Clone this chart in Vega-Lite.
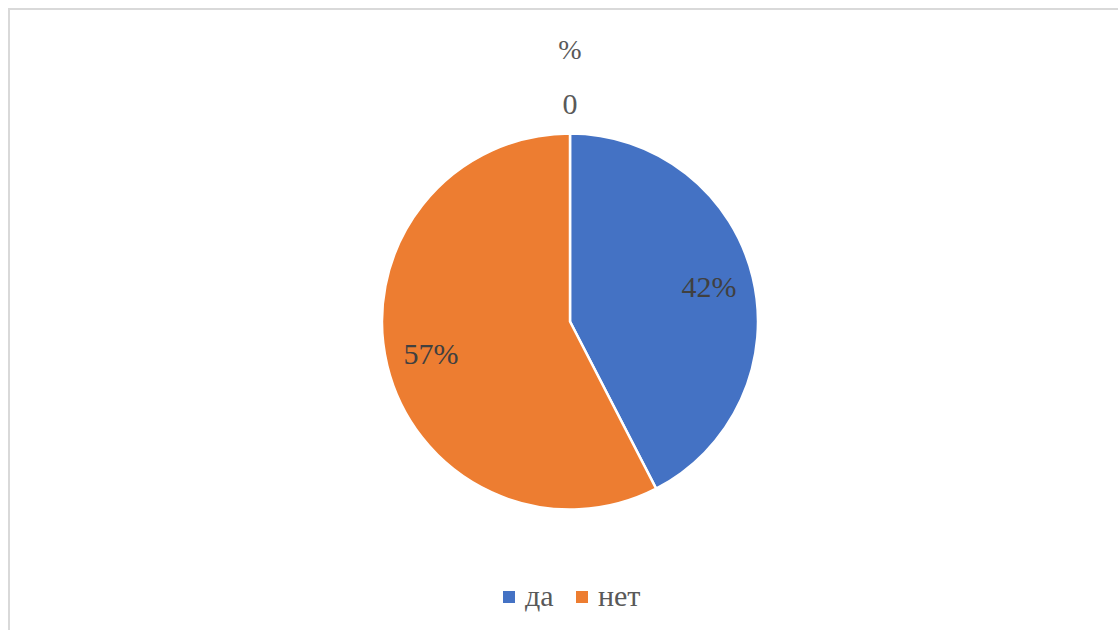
{
  "$schema": "https://vega.github.io/schema/vega-lite/v6.json",
  "autosize": {"type": "none"},
  "padding": {"left": 9, "top": 9, "right": 0, "bottom": 0},
  "width": 1122,
  "height": 625,
  "background": "white",
  "view": {"stroke": "#d9d9d9", "strokeWidth": 2},
  "title": {
    "text": "%",
    "subtitle": "0",
    "frame": "group",
    "anchor": "middle",
    "orient": "top",
    "baseline": "top",
    "offset": -111,
    "font": "Liberation Serif",
    "fontSize": 28,
    "fontWeight": "normal",
    "color": "#595959",
    "subtitleFont": "Liberation Serif",
    "subtitleFontSize": 30,
    "subtitleColor": "#595959",
    "subtitlePadding": 25
  },
  "data": {
    "values": [
      {"answer": "да", "percent": 42, "label": "42%"},
      {"answer": "нет", "percent": 57, "label": "57%"}
    ]
  },
  "encoding": {
    "theta": {"field": "percent", "type": "quantitative", "stack": true}
  },
  "layer": [
    {
      "mark": {"type": "arc", "outerRadius": 188, "stroke": "white", "strokeWidth": 2.5},
      "encoding": {
        "color": {
          "field": "answer",
          "type": "nominal",
          "scale": {"domain": ["да", "нет"], "range": ["#4472C4", "#ED7D31"]},
          "legend": {
            "orient": "none",
            "legendX": 485,
            "legendY": 573,
            "direction": "horizontal",
            "title": null,
            "symbolType": "square",
            "symbolSize": 144,
            "symbolStrokeWidth": 0,
            "labelFont": "Liberation Serif",
            "labelFontSize": 30,
            "labelColor": "#595959",
            "labelOffset": 1,
            "columnPadding": 13,
            "padding": 0
          }
        }
      }
    },
    {
      "mark": {"type": "text", "radius": 143, "font": "Liberation Serif", "fontSize": 30, "align": "center", "baseline": "middle"},
      "encoding": {
        "text": {"field": "label", "type": "nominal"},
        "detail": {"field": "answer", "type": "nominal"},
        "color": {"value": "#404040"}
      }
    }
  ]
}
